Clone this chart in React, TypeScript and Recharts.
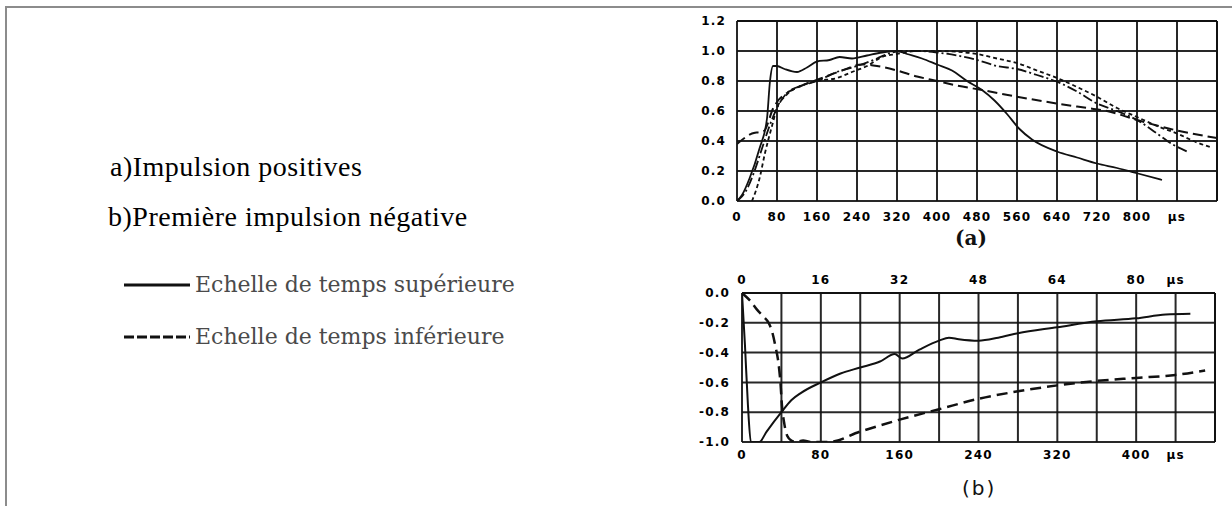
import React from 'react';
import { LineChart, Line, XAxis, YAxis, CartesianGrid, ReferenceLine } from 'recharts';

// ---------- Chart (a): positive impulses, time 0-960 µs ----------
const aXTicks = [0, 80, 160, 240, 320, 400, 480, 560, 640, 720, 800, 880, 960];
const aXLabels = ['0', '80', '160', '240', '320', '400', '480', '560', '640', '720', '800', 'µs', ''];
const aYTicks = [0, 0.2, 0.4, 0.6, 0.8, 1.0, 1.2];
const aYLabels = ['0.0', '0.2', '0.4', '0.6', '0.8', '1.0', '1.2'];

const aSolid = [
  { t: 0, v: 0.0 }, { t: 10, v: 0.04 }, { t: 25, v: 0.15 }, { t: 45, v: 0.35 }, { t: 60, v: 0.55 },
  { t: 66, v: 0.8 }, { t: 72, v: 0.9 }, { t: 80, v: 0.9 }, { t: 95, v: 0.88 }, { t: 120, v: 0.86 },
  { t: 140, v: 0.89 }, { t: 160, v: 0.93 }, { t: 185, v: 0.94 }, { t: 205, v: 0.96 }, { t: 230, v: 0.95 },
  { t: 260, v: 0.97 }, { t: 290, v: 0.99 }, { t: 320, v: 1.0 }, { t: 340, v: 0.98 }, { t: 370, v: 0.95 },
  { t: 400, v: 0.91 }, { t: 430, v: 0.87 }, { t: 460, v: 0.8 }, { t: 490, v: 0.74 }, { t: 515, v: 0.67 },
  { t: 540, v: 0.58 }, { t: 565, v: 0.48 }, { t: 590, v: 0.41 }, { t: 640, v: 0.33 }, { t: 680, v: 0.29 },
  { t: 720, v: 0.25 }, { t: 760, v: 0.22 }, { t: 800, v: 0.185 }, { t: 850, v: 0.14 },
];

const aLongDash = [
  { t: 0, v: 0.38 }, { t: 15, v: 0.42 }, { t: 30, v: 0.45 }, { t: 45, v: 0.46 }, { t: 55, v: 0.47 },
  { t: 62, v: 0.52 }, { t: 70, v: 0.6 }, { t: 80, v: 0.66 }, { t: 100, v: 0.72 }, { t: 130, v: 0.77 },
  { t: 170, v: 0.82 }, { t: 210, v: 0.87 }, { t: 250, v: 0.91 }, { t: 280, v: 0.9 }, { t: 320, v: 0.87 },
  { t: 360, v: 0.83 }, { t: 400, v: 0.8 }, { t: 440, v: 0.77 }, { t: 490, v: 0.74 }, { t: 560, v: 0.695 },
  { t: 640, v: 0.65 }, { t: 700, v: 0.62 }, { t: 740, v: 0.6 }, { t: 800, v: 0.54 }, { t: 880, v: 0.47 },
  { t: 960, v: 0.42 },
];

const aDashDot = [
  { t: 0, v: 0.0 }, { t: 10, v: 0.03 }, { t: 20, v: 0.08 }, { t: 35, v: 0.2 }, { t: 50, v: 0.35 },
  { t: 65, v: 0.5 }, { t: 80, v: 0.62 }, { t: 100, v: 0.72 }, { t: 130, v: 0.77 }, { t: 160, v: 0.8 },
  { t: 200, v: 0.86 }, { t: 240, v: 0.9 }, { t: 280, v: 0.95 }, { t: 300, v: 0.98 }, { t: 330, v: 1.0 },
  { t: 360, v: 1.0 }, { t: 400, v: 0.99 }, { t: 440, v: 0.97 }, { t: 480, v: 0.94 }, { t: 520, v: 0.9 },
  { t: 560, v: 0.88 }, { t: 600, v: 0.84 }, { t: 640, v: 0.795 }, { t: 680, v: 0.73 }, { t: 720, v: 0.65 },
  { t: 760, v: 0.6 }, { t: 800, v: 0.54 }, { t: 840, v: 0.45 }, { t: 870, v: 0.38 }, { t: 900, v: 0.33 },
];

const aDotted = [
  { t: 30, v: 0.0 }, { t: 45, v: 0.15 }, { t: 56, v: 0.32 }, { t: 70, v: 0.5 }, { t: 80, v: 0.62 },
  { t: 100, v: 0.71 }, { t: 130, v: 0.77 }, { t: 160, v: 0.8 }, { t: 200, v: 0.82 }, { t: 230, v: 0.86 },
  { t: 260, v: 0.9 }, { t: 290, v: 0.96 }, { t: 320, v: 0.98 }, { t: 360, v: 1.0 }, { t: 400, v: 1.0 },
  { t: 440, v: 0.995 }, { t: 480, v: 0.98 }, { t: 520, v: 0.95 }, { t: 560, v: 0.92 }, { t: 600, v: 0.87 },
  { t: 640, v: 0.82 }, { t: 680, v: 0.76 }, { t: 720, v: 0.695 }, { t: 760, v: 0.62 }, { t: 800, v: 0.56 },
  { t: 840, v: 0.5 }, { t: 880, v: 0.45 }, { t: 920, v: 0.39 }, { t: 946, v: 0.36 },
];

// ---------- Chart (b): first negative impulse ----------
const bTopTicks = [0, 8, 16, 24, 32, 40, 48, 56, 64, 72, 80, 88, 96];
const bTopLabels = ['0', '', '16', '', '32', '', '48', '', '64', '', '80', 'µs', ''];
const bBottomTicks = [0, 40, 80, 120, 160, 200, 240, 280, 320, 360, 400, 440, 480];
const bBottomLabels = ['0', '', '80', '', '160', '', '240', '', '320', '', '400', 'µs', ''];
const bYTicks = [-1.0, -0.8, -0.6, -0.4, -0.2, 0.0];
const bYLabels = ['-1.0', '-0.8', '-0.6', '-0.4', '-0.2', '0.0'];

// solid: upper time scale (0-96 µs)
const bSolid = [
  { t: 0, v: 0 }, { t: 0.6, v: -0.35 }, { t: 1.2, v: -0.75 }, { t: 1.8, v: -1.0 }, { t: 3.5, v: -1.0 },
  { t: 5, v: -0.93 }, { t: 8, v: -0.8 }, { t: 10, v: -0.72 }, { t: 12, v: -0.67 }, { t: 16, v: -0.6 },
  { t: 20, v: -0.54 }, { t: 24, v: -0.5 }, { t: 28, v: -0.46 }, { t: 31, v: -0.41 }, { t: 32.5, v: -0.44 },
  { t: 36, v: -0.38 }, { t: 40, v: -0.32 }, { t: 42, v: -0.3 }, { t: 44, v: -0.31 }, { t: 48, v: -0.32 },
  { t: 52, v: -0.3 }, { t: 56, v: -0.27 }, { t: 64, v: -0.23 }, { t: 72, v: -0.19 }, { t: 80, v: -0.17 },
  { t: 86, v: -0.145 }, { t: 91, v: -0.14 },
];

// dashed: lower time scale (0-480 µs)
const bDashed = [
  { t: 0, v: 0 }, { t: 8, v: -0.05 }, { t: 15, v: -0.11 }, { t: 22, v: -0.16 }, { t: 27, v: -0.2 },
  { t: 31, v: -0.27 }, { t: 34, v: -0.36 }, { t: 37, v: -0.47 }, { t: 39, v: -0.6 }, { t: 40.5, v: -0.75 },
  { t: 43, v: -0.88 }, { t: 46, v: -0.96 }, { t: 50, v: -0.99 }, { t: 55, v: -1.0 }, { t: 62, v: -0.99 },
  { t: 70, v: -1.0 }, { t: 88, v: -1.0 }, { t: 120, v: -0.93 }, { t: 160, v: -0.85 }, { t: 200, v: -0.78 },
  { t: 240, v: -0.71 }, { t: 280, v: -0.66 }, { t: 320, v: -0.62 }, { t: 360, v: -0.59 }, { t: 400, v: -0.57 },
  { t: 440, v: -0.55 }, { t: 470, v: -0.52 },
];

// ---------- Left legend texts ----------
const titleA = 'a)Impulsion positives';
const titleB = 'b)Première impulsion négative';
const legendSolid = 'Echelle de temps supérieure';
const legendDashed = 'Echelle de temps inférieure';

const tickStyle = {
  fill: '#000',
  fontSize: 12,
  fontWeight: 700,
  fontFamily: 'DejaVu Sans',
  letterSpacing: 1.2,
};

const fmt = (ticks: number[], labels: string[]) => (v: number) => {
  const i = ticks.findIndex((x) => Math.abs(x - v) < 1e-9);
  return i >= 0 ? labels[i] : '';
};

export default function App() {
  return (
    <div style={{ position: 'absolute', left: 0, top: 0, width: 1232, height: 506, background: '#fff', overflow: 'hidden' }}>
      {/* frame */}
      <div style={{ position: 'absolute', left: 5, top: 6, width: 1240, height: 520, borderTop: '2px solid #8c8c8c', borderLeft: '2px solid #8c8c8c' }} />

      {/* left texts */}
      <div style={{ position: 'absolute', left: 110, top: 152, fontFamily: 'Liberation Serif', fontSize: 28, letterSpacing: 0.5, lineHeight: '30px', color: '#000', whiteSpace: 'nowrap' }}>{titleA}</div>
      <div style={{ position: 'absolute', left: 108, top: 202, fontFamily: 'Liberation Serif', fontSize: 28, letterSpacing: 0.5, lineHeight: '30px', color: '#000', whiteSpace: 'nowrap' }}>{titleB}</div>

      <svg style={{ position: 'absolute', left: 0, top: 0 }} width={600} height={506}>
        <line x1={124} y1={285} x2={190} y2={285} stroke="#111" strokeWidth={3} />
        <line x1={124} y1={337} x2={190} y2={337} stroke="#111" strokeWidth={3} strokeDasharray="10 3" />
      </svg>
      <div style={{ position: 'absolute', left: 195, top: 271, fontFamily: 'DejaVu Serif', fontSize: 22, lineHeight: '28px', color: '#4a4a4a', whiteSpace: 'nowrap' }}>{legendSolid}</div>
      <div style={{ position: 'absolute', left: 195, top: 323, fontFamily: 'DejaVu Serif', fontSize: 22, lineHeight: '28px', color: '#4a4a4a', whiteSpace: 'nowrap' }}>{legendDashed}</div>

      {/* chart (a) */}
      <div style={{ position: 'absolute', left: 690, top: 0 }}>
        <LineChart width={540} height={250} margin={{ top: 21, right: 13, left: 0, bottom: 0 }}>
          <CartesianGrid stroke="#111" strokeWidth={2} strokeOpacity={0.9} />
          <XAxis
            type="number"
            dataKey="t"
            domain={[0, 960]}
            ticks={aXTicks}
            interval={0}
            allowDataOverflow
            axisLine={false}
            tickLine={false}
            tickMargin={5}
            height={49}
            tick={tickStyle}
            tickFormatter={fmt(aXTicks, aXLabels)}
          />
          <YAxis
            type="number"
            domain={[0, 1.2]}
            ticks={aYTicks}
            interval={0}
            allowDataOverflow
            axisLine={false}
            tickLine={false}
            tickMargin={5}
            width={47}
            tick={tickStyle}
            tickFormatter={fmt(aYTicks, aYLabels)}
          />
          <ReferenceLine x={960} stroke="#111" strokeWidth={2} />
          <ReferenceLine y={1.2} stroke="#111" strokeWidth={2} />
          <Line data={aLongDash} dataKey="v" type="monotone" stroke="#111" strokeWidth={2} strokeDasharray="10 5" dot={false} isAnimationActive={false} />
          <Line data={aDashDot} dataKey="v" type="monotone" stroke="#111" strokeWidth={1.8} strokeDasharray="10 3 2 3" dot={false} isAnimationActive={false} />
          <Line data={aDotted} dataKey="v" type="monotone" stroke="#111" strokeWidth={1.8} strokeDasharray="4 3" dot={false} isAnimationActive={false} />
          <Line data={aSolid} dataKey="v" type="monotone" stroke="#111" strokeWidth={1.8} dot={false} isAnimationActive={false} />
        </LineChart>
      </div>
      <div style={{ position: 'absolute', left: 955, top: 225, fontFamily: 'DejaVu Serif', fontWeight: 700, fontSize: 20, lineHeight: '26px', color: '#111' }}>(a)</div>

      {/* chart (b) */}
      <div style={{ position: 'absolute', left: 690, top: 255 }}>
        <LineChart width={540} height={230} margin={{ top: 0, right: 15, left: 0, bottom: 0 }}>
          <CartesianGrid stroke="#111" strokeWidth={2} strokeOpacity={0.9} xAxisId="bottom" />
          <XAxis
            xAxisId="top"
            orientation="top"
            type="number"
            dataKey="t"
            domain={[0, 96]}
            ticks={bTopTicks}
            interval={0}
            allowDataOverflow
            axisLine={false}
            tickLine={false}
            tickMargin={3}
            height={38}
            tick={tickStyle}
            tickFormatter={fmt(bTopTicks, bTopLabels)}
          />
          <XAxis
            xAxisId="bottom"
            orientation="bottom"
            type="number"
            dataKey="t"
            domain={[0, 480]}
            ticks={bBottomTicks}
            interval={0}
            allowDataOverflow
            axisLine={false}
            tickLine={false}
            tickMargin={2}
            height={43}
            tick={tickStyle}
            tickFormatter={fmt(bBottomTicks, bBottomLabels)}
          />
          <YAxis
            type="number"
            domain={[-1, 0]}
            ticks={bYTicks}
            interval={0}
            allowDataOverflow
            axisLine={false}
            tickLine={false}
            tickMargin={6}
            width={52}
            tick={tickStyle}
            tickFormatter={fmt(bYTicks, bYLabels)}
          />
          <ReferenceLine xAxisId="bottom" x={480} stroke="#111" strokeWidth={2} />
          <ReferenceLine xAxisId="bottom" y={0} stroke="#111" strokeWidth={2} />
          <Line xAxisId="top" data={bSolid} dataKey="v" type="monotone" stroke="#111" strokeWidth={2} dot={false} isAnimationActive={false} />
          <Line xAxisId="bottom" data={bDashed} dataKey="v" type="monotone" stroke="#111" strokeWidth={2.5} strokeDasharray="11 6" dot={false} isAnimationActive={false} />
        </LineChart>
      </div>
      <div style={{ position: 'absolute', left: 962, top: 475, fontFamily: 'DejaVu Sans', fontSize: 20, letterSpacing: 2, lineHeight: '26px', color: '#111' }}>(b)</div>
    </div>
  );
}
